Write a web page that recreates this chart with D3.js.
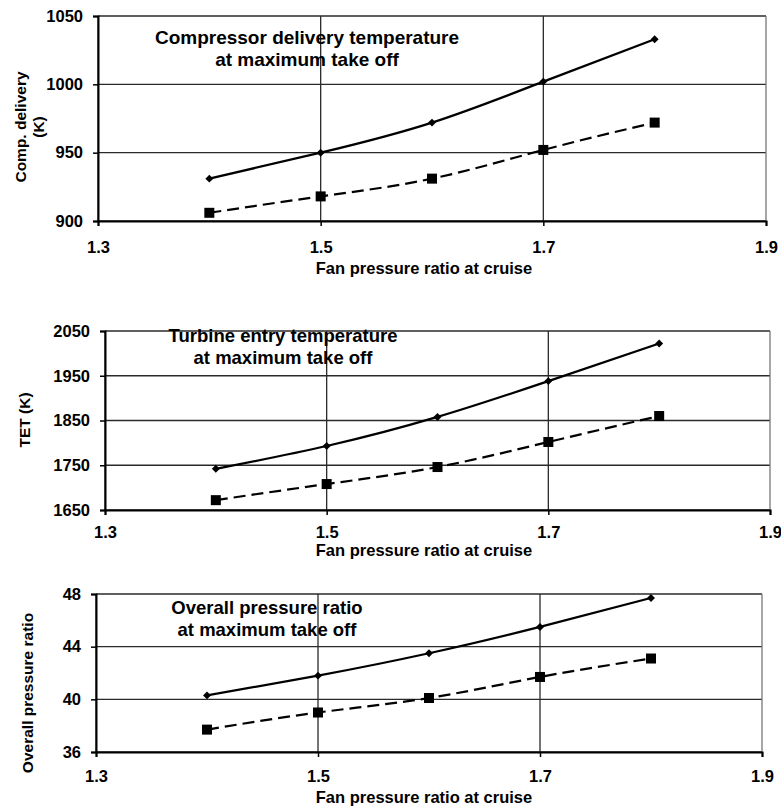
<!DOCTYPE html>
<html>
<head>
<meta charset="utf-8">
<script src="https://cdn.jsdelivr.net/npm/d3@7"></script>
<style>
  html, body { margin: 0; padding: 0; background: #fff; }
  svg { display: block; font-family: "Liberation Sans", Arial, sans-serif; }
</style>
</head>
<body>
<svg id="chart" width="781" height="808"></svg>
<script>
// ---- data ----
const fanPR = [1.4, 1.5, 1.6, 1.7, 1.8];
const xTicks = [1.3, 1.5, 1.7, 1.9];

// Panel 1: compressor delivery temperature (K)
const compSolid  = [931, 950, 972, 1002, 1033];
const compDashed = [906, 918, 931, 952, 972];
const compTicks  = [900, 950, 1000, 1050];

// Panel 2: turbine entry temperature (K)
const tetSolid  = [1742, 1793, 1858, 1938, 2022];
const tetDashed = [1672, 1708, 1746, 1802, 1860];
const tetTicks  = [1650, 1750, 1850, 1950, 2050];

// Panel 3: overall pressure ratio
const oprSolid  = [40.3, 41.8, 43.5, 45.5, 47.7];
const oprDashed = [37.7, 39.0, 40.1, 41.7, 43.1];
const oprTicks  = [36, 40, 44, 48];

const xTitle = "Fan pressure ratio at cruise";

const panels = [
  { left: 98, right: 766, top: 16, bottom: 221, ticks: compTicks, solid: compSolid, dashed: compDashed,
    yLabel: ["Comp. delivery", "(K)"], yLabelX: [21, 39], yLabelY: 127,
    title: ["Compressor delivery temperature", "at maximum take off"], titleX: 307, titleY: [44, 66], titleSize: 19,
    xPad: 15, xTitleY: 274 },
  { left: 105, right: 770, top: 331, bottom: 510, ticks: tetTicks, solid: tetSolid, dashed: tetDashed,
    yLabel: ["TET (K)"], yLabelX: [25], yLabelY: 420,
    title: ["Turbine entry temperature", "at maximum take off"], titleX: 283, titleY: [342, 364], titleSize: 18.5,
    xPad: 11, xTitleY: 556 },
  { left: 96, right: 762, top: 594, bottom: 752, ticks: oprTicks, solid: oprSolid, dashed: oprDashed,
    yLabel: ["Overall pressure ratio"], yLabelX: [28], yLabelY: 693,
    title: ["Overall pressure ratio", "at maximum take off"], titleX: 267, titleY: [614, 636], titleSize: 18.5,
    xPad: 13, xTitleY: 803 }
];

const svg = d3.select("#chart");

panels.forEach(p => {
  const x = d3.scaleLinear().domain([1.3, 1.9]).range([p.left, p.right]);
  const y = d3.scaleLinear().domain([p.ticks[0], p.ticks[p.ticks.length - 1]]).range([p.bottom, p.top]);
  const g = svg.append("g");

  // horizontal gridlines
  g.selectAll(".hg").data(p.ticks).enter().append("line")
    .attr("x1", p.left).attr("x2", p.right)
    .attr("y1", d => y(d)).attr("y2", d => y(d))
    .attr("stroke", "#2a2a2a").attr("stroke-width", 1.3);
  // vertical gridlines
  g.selectAll(".vg").data(xTicks).enter().append("line")
    .attr("x1", d => x(d)).attr("x2", d => x(d))
    .attr("y1", p.top).attr("y2", p.bottom)
    .attr("stroke", d => (d === 1.9 ? "#777" : "#2a2a2a")).attr("stroke-width", 1.3);

  // axes
  const ya = g.append("g").attr("transform", `translate(${p.left},0)`)
    .call(d3.axisLeft(y).tickValues(p.ticks).tickSize(5).tickPadding(10).tickFormat(d3.format("d")));
  const xa = g.append("g").attr("transform", `translate(0,${p.bottom})`)
    .call(d3.axisBottom(x).tickValues(xTicks).tickSize(5).tickPadding(p.xPad).tickFormat(d3.format(".1f")));
  [ya, xa].forEach(a => {
    a.select(".domain").attr("stroke", "#000").attr("stroke-width", 2);
    a.selectAll(".tick line").attr("stroke", "#000").attr("stroke-width", 1.5);
    a.selectAll(".tick text").attr("fill", "#000").attr("font-size", 16.5).attr("font-weight", "bold")
      .attr("font-family", "Liberation Sans, Arial, sans-serif");
  });

  // series
  const line = d3.line().x((d, i) => x(fanPR[i])).y(d => y(d)).curve(d3.curveNatural);
  g.append("path").datum(p.solid).attr("d", line)
    .attr("fill", "none").attr("stroke", "#000").attr("stroke-width", 2.2);
  g.append("path").datum(p.dashed).attr("d", line)
    .attr("fill", "none").attr("stroke", "#000").attr("stroke-width", 2.2).attr("stroke-dasharray", "12,6");

  g.selectAll(".dm").data(p.solid).enter().append("path")
    .attr("d", d3.symbol().type(d3.symbolDiamond2).size(40))
    .attr("transform", (d, i) => `translate(${x(fanPR[i])},${y(d)})`)
    .attr("fill", "#000");
  g.selectAll(".sq").data(p.dashed).enter().append("rect")
    .attr("x", (d, i) => x(fanPR[i]) - 5).attr("y", d => y(d) - 5)
    .attr("width", 10).attr("height", 10).attr("fill", "#000");

  // title
  p.title.forEach((t, i) => {
    g.append("text").attr("x", p.titleX).attr("y", p.titleY[i]).attr("text-anchor", "middle")
      .attr("font-size", p.titleSize).attr("font-weight", "bold").attr("fill", "#000").text(t);
  });

  // y label
  p.yLabel.forEach((t, i) => {
    g.append("text")
      .attr("transform", `translate(${p.yLabelX[i]},${p.yLabelY}) rotate(-90)`)
      .attr("text-anchor", "middle").attr("dy", "0.35em")
      .attr("font-size", 15.5).attr("font-weight", "bold").attr("fill", "#000").text(t);
  });

  // x title
  g.append("text").attr("x", 424).attr("y", p.xTitleY).attr("text-anchor", "middle")
    .attr("font-size", 16.5).attr("font-weight", "bold").attr("fill", "#000").text(xTitle);
});
</script>
</body>
</html>
